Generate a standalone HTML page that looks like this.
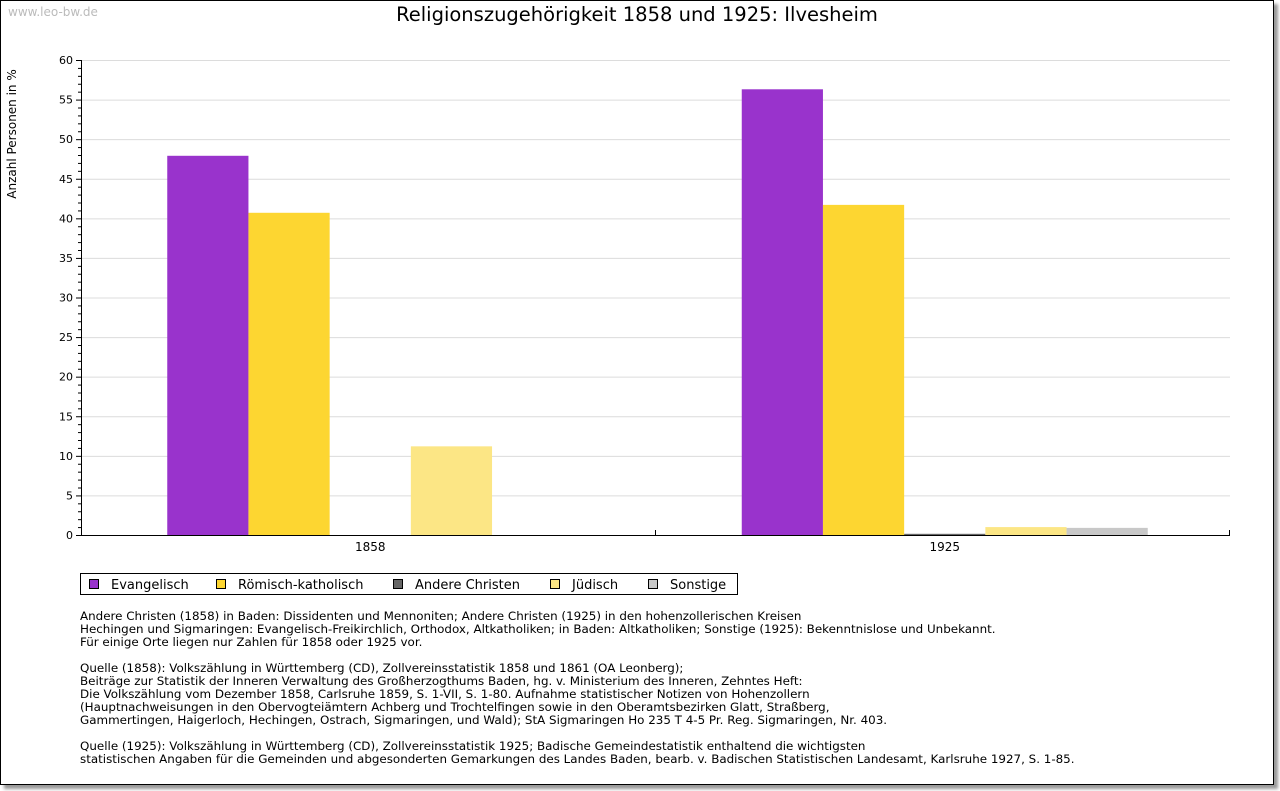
<!DOCTYPE html>
<html><head><meta charset="utf-8"><style>
body{margin:0;background:#fff;font-family:"Liberation Sans","DejaVu Sans",sans-serif;}
#frame{position:absolute;left:0;top:0;width:1272px;height:783px;border:1px solid #000;box-shadow:4px 4px 3px #999;background:#fff;}
.note{position:absolute;left:80px;font-family:"DejaVu Sans",sans-serif;font-size:11.9px;line-height:13px;color:#000;white-space:pre;}
</style></head><body>
<div id="frame"></div>
<svg id="chart" width="1280" height="791" style="position:absolute;left:0;top:0" font-family="DejaVu Sans, sans-serif">
<text x="8" y="16" font-size="12" fill="#bbb">www.leo-bw.de</text>
<text x="637" y="21" font-size="19.5" text-anchor="middle">Religionszugehörigkeit 1858 und 1925: Ilvesheim</text>
<text transform="translate(16,134) rotate(-90)" font-size="12" text-anchor="middle">Anzahl Personen in %</text>
<g id="grid"></g><g id="bars"></g><g id="axes"></g>
<g>
<rect x="80.5" y="573.5" width="657" height="21" fill="#fff" stroke="#000"/>
</g><g id="legend"></g>
</svg>
<div class="note" style="top:610px">Andere Christen (1858) in Baden: Dissidenten und Mennoniten; Andere Christen (1925) in den hohenzollerischen Kreisen
Hechingen und Sigmaringen: Evangelisch-Freikirchlich, Orthodox, Altkatholiken; in Baden: Altkatholiken; Sonstige (1925): Bekenntnislose und Unbekannt.
Für einige Orte liegen nur Zahlen für 1858 oder 1925 vor.</div>
<div class="note" style="top:662px">Quelle (1858): Volkszählung in Württemberg (CD), Zollvereinsstatistik 1858 und 1861 (OA Leonberg);
Beiträge zur Statistik der Inneren Verwaltung des Großherzogthums Baden, hg. v. Ministerium des Inneren, Zehntes Heft:
Die Volkszählung vom Dezember 1858, Carlsruhe 1859, S. 1-VII, S. 1-80. Aufnahme statistischer Notizen von Hohenzollern
(Hauptnachweisungen in den Obervogteiämtern Achberg und Trochtelfingen sowie in den Oberamtsbezirken Glatt, Straßberg,
Gammertingen, Haigerloch, Hechingen, Ostrach, Sigmaringen, und Wald); StA Sigmaringen Ho 235 T 4-5 Pr. Reg. Sigmaringen, Nr. 403.</div>
<div class="note" style="top:740px">Quelle (1925): Volkszählung in Württemberg (CD), Zollvereinsstatistik 1925; Badische Gemeindestatistik enthaltend die wichtigsten
statistischen Angaben für die Gemeinden und abgesonderten Gemarkungen des Landes Baden, bearb. v. Badischen Statistischen Landesamt, Karlsruhe 1927, S. 1-85.</div>
<script>
const categories=["1858","1925"];
const seriesNames=["Evangelisch","Römisch-katholisch","Andere Christen","Jüdisch","Sonstige"];
const seriesColors=["#9933cc","#fdd631","#666666","#fce685","#c8c8c8"];
const evangelisch=[47.9,56.3];
const katholisch=[40.7,41.7];
const andere=[0,0.15];
const juedisch=[11.2,1.0];
const sonstige=[0,0.9];
const yTicks=[0,5,10,15,20,25,30,35,40,45,50,55,60];
const NS="http://www.w3.org/2000/svg";
const X0=81,X1=1230,Y0=535,Y1=60,YMAX=60;
const y=v=>Y0-(v/YMAX)*(Y0-Y1);
const catW=(X1-X0)/categories.length;
const barW=81.2;
function mk(t,a,p){const e=document.createElementNS(NS,t);for(const k in a)e.setAttribute(k,a[k]);document.getElementById(p).appendChild(e);return e;}
yTicks.forEach(t=>{
 if(t>0){const g=mk('line',{x1:X0,x2:X1,y1:y(t)+.5,y2:y(t)+.5,stroke:'#dcdcdc'},'grid');
 
 }
 const l=mk('text',{x:73,y:y(t)+4,'font-size':11,'text-anchor':'end'},'axes');l.textContent=t;
 
 
 mk('line',{x1:X0-5,x2:X0,y1:y(t)+.5,y2:y(t)+.5,stroke:'#000'},'axes');
});
for(let v=0;v<YMAX;v++){if(v%5)mk('line',{x1:X0-3,x2:X0,y1:y(v)+.5,y2:y(v)+.5,stroke:'#000'},'axes');}
mk('line',{x1:X0+.5,x2:X0+.5,y1:Y1,y2:Y0,stroke:'#000'},'axes');
mk('line',{x1:X0,x2:X1,y1:Y0+.5,y2:Y0+.5,stroke:'#000'},'axes');
for(let i=1;i<=categories.length;i++){const xx=Math.round(X0+i*catW)-.5;mk('line',{x1:xx,x2:xx,y1:Y0-5,y2:Y0,stroke:'#000'},'axes');}
const all=[evangelisch,katholisch,andere,juedisch,sonstige];
categories.forEach((c,ci)=>{
 const cx=X0+catW*(ci+.5);
 const start=cx-barW*all.length/2+2;
 all.forEach((s,si)=>{
  const b=mk('rect',{x:start+si*barW,y:y(s[ci]),width:barW,height:Math.max(0,Y0-y(s[ci])),fill:seriesColors[si]},'bars');
  
  
 });
 const t=mk('text',{x:cx+2,y:551,'font-size':12,'text-anchor':'middle'},'axes');t.textContent=c;
 
 
});
const lx=[89,216,393,550,648];
seriesNames.forEach((n,i)=>{
 const r=mk('rect',{x:lx[i]+.5,y:579.5,width:9,height:9,fill:seriesColors[i],stroke:'#000'},'legend');
 
 
 const t=mk('text',{x:lx[i]+22,y:589,'font-size':13},'legend');t.textContent=n;
 
 
});
</script>
</body></html>
